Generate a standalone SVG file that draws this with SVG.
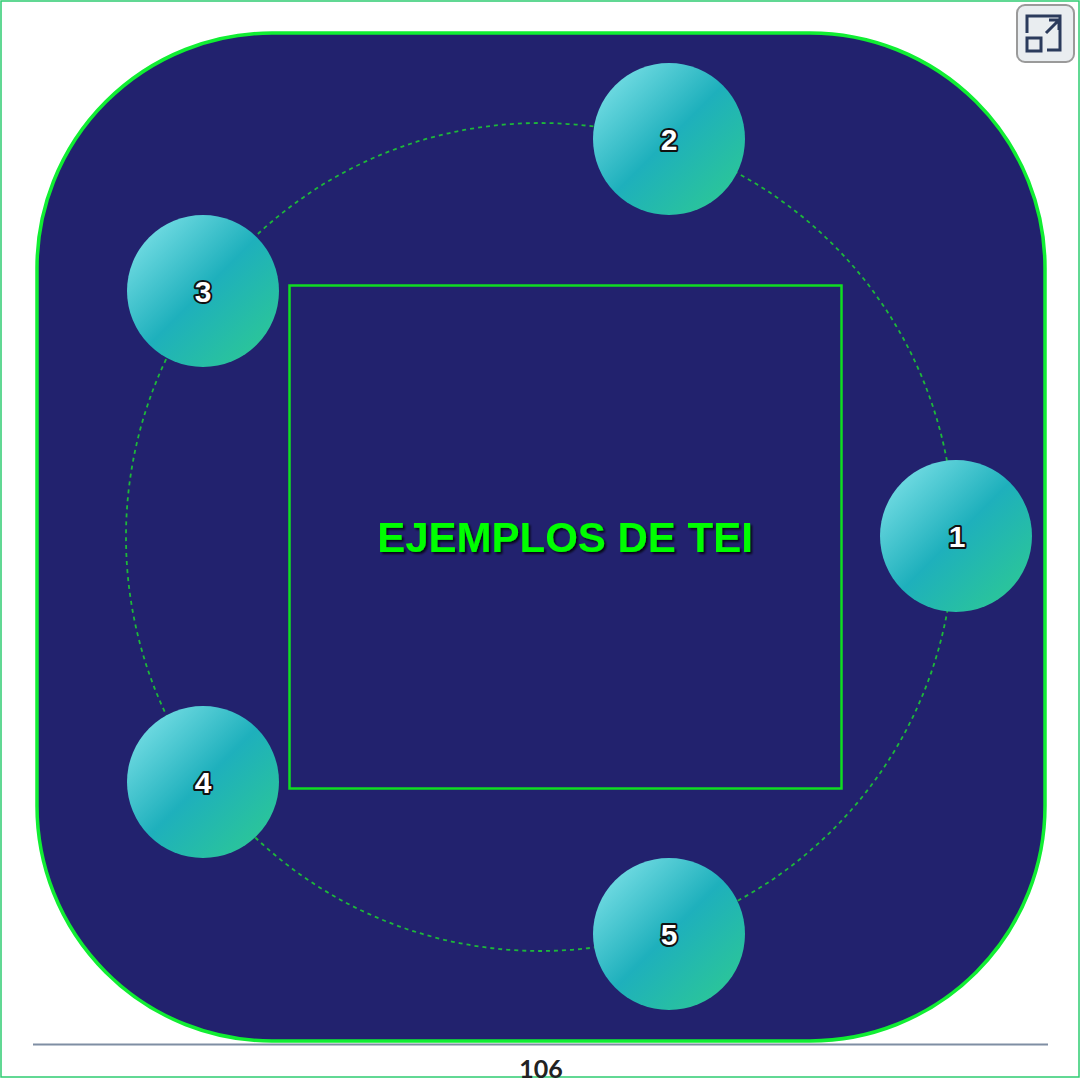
<svg xmlns="http://www.w3.org/2000/svg" width="1081" height="1078" viewBox="0 0 1081 1078">
<defs>
<linearGradient id="ng" x1="0" y1="0" x2="1" y2="1">
<stop offset="0" stop-color="#8ae8ee"/>
<stop offset="0.5" stop-color="#1eb0bc"/>
<stop offset="1" stop-color="#2fcc8e"/>
</linearGradient>
<filter id="sh" x="-10%" y="-10%" width="120%" height="130%">
<feDropShadow dx="2" dy="2" stdDeviation="1" flood-color="#000" flood-opacity="0.8"/>
</filter>
</defs>
<style>
.node circle{fill:url(#ng);}
.num{font-family:"Liberation Sans",Arial,sans-serif;font-weight:bold;font-size:30px;fill:#fff;stroke:#111;stroke-width:4;paint-order:stroke;stroke-linejoin:round;text-anchor:middle;}
</style>
<rect x="0" y="0" width="1081" height="1078" fill="#fff"/>
<rect x="1" y="1" width="1078" height="1076" fill="none" stroke="#2ecc71" stroke-width="1.5"/>
<rect id="board" x="37" y="33" width="1008" height="1008" rx="235" ry="235" fill="#22226e" stroke="#11ee33" stroke-width="3.5"/>
<line x1="33" y1="1044.5" x2="1048" y2="1044.5" stroke="#7f8ea3" stroke-width="2"/>
<text x="541" y="1078" font-family="Lato,sans-serif" font-weight="bold" font-size="25" fill="#222" text-anchor="middle">106</text>
<g id="btn">
<rect x="1017" y="5" width="57" height="57" rx="8" fill="#e9edf0" stroke="#9a9a9a" stroke-width="2"/>
<path d="M1027 33 V16 H1060 V50 H1047" fill="none" stroke="#2b3b5c" stroke-width="3"/>
<rect x="1027" y="38" width="14" height="13" fill="none" stroke="#2b3b5c" stroke-width="3"/>
<path d="M1046 33 L1058 21 M1049 20 H1059 V30" fill="none" stroke="#2b3b5c" stroke-width="3"/>
</g>
<g id="connectors">
<circle cx="540" cy="537" r="414" fill="none" stroke="#1db83a" stroke-width="1.8" stroke-dasharray="4,4"/>
</g>
<g id="center">
<rect x="289.5" y="285.5" width="552" height="503" fill="none" stroke="#11dd22" stroke-width="2.5"/>
<text x="565" y="552" font-family="Liberation Sans,Arial,sans-serif" font-weight="bold" font-size="42" fill="#00ff00" text-anchor="middle" filter="url(#sh)">EJEMPLOS DE TEI</text>
</g>
<g id="node1" class="node"><circle cx="956" cy="536" r="76"/><text class="num" x="957" y="547">1</text></g>
<g id="node2" class="node"><circle cx="669" cy="139" r="76"/><text class="num" x="669" y="150">2</text></g>
<g id="node3" class="node"><circle cx="203" cy="291" r="76"/><text class="num" x="203" y="302">3</text></g>
<g id="node4" class="node"><circle cx="203" cy="782" r="76"/><text class="num" x="203" y="793">4</text></g>
<g id="node5" class="node"><circle cx="669" cy="934" r="76"/><text class="num" x="669" y="945">5</text></g>
</svg>
